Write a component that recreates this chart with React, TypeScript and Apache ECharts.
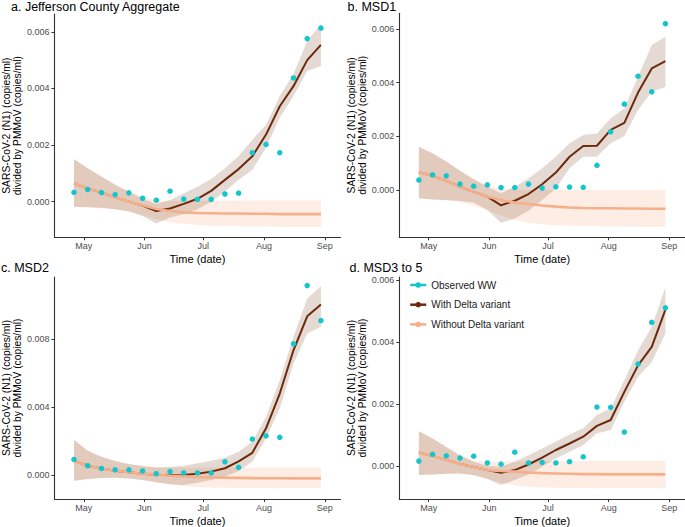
import React, { useEffect, useRef } from 'react';
import * as echarts from 'echarts';

// ---------- data ----------
const sampleDates = [
  '2021-04-26', '2021-05-03', '2021-05-10', '2021-05-17', '2021-05-24', '2021-05-31',
  '2021-06-07', '2021-06-14', '2021-06-21', '2021-06-28', '2021-07-05', '2021-07-12',
  '2021-07-19', '2021-07-26', '2021-08-02', '2021-08-09', '2021-08-16', '2021-08-23', '2021-08-30',
];
const monthTickDates = ['2021-05-01', '2021-06-01', '2021-07-01', '2021-08-01', '2021-09-01'];
const monthLabels = ['May', 'Jun', 'Jul', 'Aug', 'Sep'];

const panelTitles = ['a. Jefferson County Aggregate', 'b. MSD1', 'c. MSD2', 'd. MSD3 to 5'];
const yTicksA = [0, 0.002, 0.004, 0.006];
const yTicksB = [0, 0.002, 0.004, 0.006];
const yTicksC = [0, 0.004, 0.008];
const yTicksD = [0, 0.002, 0.004, 0.006];

// Panel a
const obsA = [0.00033, 0.00043, 0.00032, 0.00025, 0.00031, 0.00012, 0.00005, 0.00037, 0.00009, 0.00008, 0.00008, 0.00027, 0.00030, 0.00173, 0.00202, 0.00173, 0.00437, 0.00576, 0.00613];
const withA = [0.00064, 0.00047, 0.00032, 0.00015, 0.0, -0.00014, -0.00033, -0.00024, -0.00008, 0.0001, 0.00038, 0.00077, 0.00115, 0.0016, 0.00237, 0.00337, 0.00408, 0.005, 0.00554];
const withLoA = [-0.00018, -0.0002, -0.00022, -0.00027, -0.00034, -0.00051, -0.00077, -0.00056, -0.00044, -0.00027, 0.0, 0.00036, 0.00077, 0.00112, 0.0019, 0.00296, 0.00373, 0.00462, 0.00479];
const withHiA = [0.0015, 0.00118, 0.00089, 0.0006, 0.00036, 0.0001, -0.00008, 0.00006, 0.0003, 0.00053, 0.0008, 0.00118, 0.0016, 0.00219, 0.00272, 0.00373, 0.0045, 0.00568, 0.00627];
const withoutA = [0.00064, 0.00047, 0.00032, 0.00015, 0.0, -0.00013, -0.00026, -0.00033, -0.00038, -0.0004, -0.00041, -0.00042, -0.00042, -0.00043, -0.00043, -0.00044, -0.00044, -0.00044, -0.00044];
const withoutLoA = [-0.00018, -0.0002, -0.00023, -0.00028, -0.00036, -0.00048, -0.00062, -0.00072, -0.00078, -0.00082, -0.00085, -0.00086, -0.00087, -0.00088, -0.00088, -0.00089, -0.00089, -0.00089, -0.00089];
const withoutHiA = [0.0015, 0.00118, 0.00089, 0.0006, 0.00036, 0.00016, 0.00004, 0.00002, 0.00002, 0.00003, 0.00003, 0.00003, 0.00004, 0.00004, 0.00004, 0.00004, 0.00004, 0.00004, 0.00004];

// Panel b
const obsB = [0.00037, 0.00056, 0.00053, 0.00022, 0.00014, 0.00019, 0.00009, 0.00009, 0.00022, 0.00007, 0.00012, 0.00011, 0.0001, 0.00092, 0.00217, 0.0032, 0.00424, 0.00366, 0.0062];
const withB = [0.00066, 0.00053, 0.00034, 0.00012, -0.00007, -0.00025, -0.00057, -0.0004, -0.00015, 0.00021, 0.00065, 0.00124, 0.00164, 0.00165, 0.00224, 0.0025, 0.00363, 0.00453, 0.0048];
const withLoB = [-0.00031, -0.00035, -0.00037, -0.00041, -0.00047, -0.00075, -0.00122, -0.00106, -0.00077, -0.00037, 0.00006, 0.00081, 0.00124, 0.00124, 0.00174, 0.00201, 0.00298, 0.00366, 0.00385];
const withHiB = [0.00161, 0.00137, 0.00106, 0.00072, 0.0004, 0.00012, -0.00012, 0.00012, 0.00043, 0.00081, 0.00124, 0.00174, 0.00205, 0.00211, 0.00267, 0.00304, 0.00422, 0.0054, 0.00571];
const withoutB = [0.00066, 0.00053, 0.00034, 0.00012, -0.00007, -0.00025, -0.00037, -0.00047, -0.00052, -0.00058, -0.00062, -0.00065, -0.00067, -0.00068, -0.00068, -0.00069, -0.00069, -0.0007, -0.0007];
const withoutLoB = [-0.00031, -0.00035, -0.00038, -0.00045, -0.00058, -0.00075, -0.00095, -0.00112, -0.00122, -0.00128, -0.00131, -0.00133, -0.00134, -0.00135, -0.00136, -0.00136, -0.00137, -0.00137, -0.00137];
const withoutHiB = [0.00161, 0.00137, 0.00106, 0.00072, 0.0004, 0.00018, 0.00006, 0.00001, 0.0, 0.0, 0.0, 0.0, 0.0, 0.0, 0.0, 0.0, 0.0, 0.0, 0.0];

// Panel c
const obsC = [0.00092, 0.00055, 0.00039, 0.00031, 0.00031, 0.00024, 0.00008, 0.0002, 0.00012, 0.00012, 0.00012, 0.00078, 0.00045, 0.00212, 0.00231, 0.00222, 0.00773, 0.01116, 0.0091];
const withC = [0.00084, 0.00055, 0.00039, 0.00025, 0.00016, 0.00008, 0.00002, -0.00002, 0.0, 0.00008, 0.0002, 0.0004, 0.0008, 0.00131, 0.00275, 0.0048, 0.00735, 0.00935, 0.01004];
const withLoC = [-0.00033, -0.00024, -0.00018, -0.00016, -0.0002, -0.00029, -0.00043, -0.00055, -0.00059, -0.00045, -0.00029, -0.0001, 0.00024, 0.00078, 0.00216, 0.00392, 0.00657, 0.00833, 0.00873];
const withHiC = [0.00206, 0.00143, 0.00108, 0.00082, 0.00065, 0.00053, 0.00045, 0.00047, 0.00055, 0.00069, 0.00084, 0.00102, 0.00137, 0.00196, 0.00343, 0.00559, 0.00814, 0.01039, 0.01114];
const withoutC = [0.00084, 0.00055, 0.00039, 0.00025, 0.00016, 0.00008, 0.00002, -0.00004, -0.00008, -0.00012, -0.00014, -0.00016, -0.00017, -0.00018, -0.00019, -0.00019, -0.0002, -0.0002, -0.0002];
const withoutLoC = [-0.00033, -0.00024, -0.00018, -0.00016, -0.0002, -0.00029, -0.00043, -0.00056, -0.00065, -0.0007, -0.00073, -0.00075, -0.00076, -0.00077, -0.00077, -0.00078, -0.00078, -0.00078, -0.00078];
const withoutHiC = [0.00206, 0.00143, 0.00108, 0.00082, 0.00065, 0.00053, 0.00045, 0.00044, 0.00043, 0.00043, 0.00043, 0.00043, 0.00043, 0.00043, 0.00043, 0.00043, 0.00043, 0.00043, 0.00043];

// Panel d
const obsD = [0.00015, 0.00037, 0.00032, 0.00025, 0.00031, 0.00009, 0.00005, 0.00044, 0.00009, 0.00011, 0.00009, 0.00013, 0.00029, 0.0019, 0.00189, 0.00109, 0.00329, 0.00464, 0.00511];
const withD = [0.00043, 0.00032, 0.00019, 0.00006, -0.00004, -0.00014, -0.00023, -0.00014, 0.00004, 0.00026, 0.00051, 0.00072, 0.00094, 0.00129, 0.00148, 0.00239, 0.00325, 0.00385, 0.00505];
const withLoD = [-0.0003, -0.00028, -0.00026, -0.00025, -0.0003, -0.00043, -0.00062, -0.00046, -0.00028, -0.00003, 0.00024, 0.00045, 0.00067, 0.00105, 0.00115, 0.00207, 0.00288, 0.00336, 0.00428];
const withHiD = [0.00112, 0.00088, 0.00061, 0.00034, 0.00013, 0.0, -0.00003, 0.00013, 0.00034, 0.00056, 0.00078, 0.00101, 0.00121, 0.00164, 0.00185, 0.00277, 0.00374, 0.00449, 0.00578];
const withoutD = [0.00043, 0.00032, 0.00019, 0.00006, -0.00004, -0.00014, -0.00017, -0.00019, -0.00022, -0.00024, -0.00025, -0.00026, -0.00027, -0.00027, -0.00028, -0.00028, -0.00028, -0.00028, -0.00028];
const withoutLoD = [-0.0003, -0.00028, -0.00026, -0.00026, -0.00031, -0.00042, -0.00055, -0.00063, -0.00068, -0.0007, -0.00071, -0.00072, -0.00072, -0.00073, -0.00073, -0.00073, -0.00073, -0.00073, -0.00073];
const withoutHiD = [0.00112, 0.00088, 0.00061, 0.00034, 0.00016, 0.00013, 0.00013, 0.00014, 0.00015, 0.00015, 0.00015, 0.00015, 0.00015, 0.00015, 0.00015, 0.00015, 0.00015, 0.00015, 0.00015];

// ---------- styling / layout ----------
const FONT = '"Liberation Sans", Arial, Helvetica, sans-serif';
const CYAN = '#12C6CB';
const BROWN = '#6B2A0C';
const ORANGE = '#F5AF8A';
const BROWN_BAND = 'rgba(107,42,12,0.18)';
const ORANGE_BAND = 'rgba(245,173,134,0.22)';
const AXIS_COLOR = '#333333';
const LABEL_COLOR = '#4D4D4D';

const BASE = Date.UTC(2021, 3, 1);
const toDay = (s: string) => {
  const [y, m, d] = s.split('-').map(Number);
  return (Date.UTC(y, m - 1, d) - BASE) / 86400000;
};

export default function App() {
  const ref = useRef<HTMLDivElement>(null);

  useEffect(() => {
    if (!ref.current) return;
    const chart = echarts.init(ref.current, null, { renderer: 'svg' });

    const xs = sampleDates.map(toDay);
    const monthDays = monthTickDates.map(toDay);
    const pairs = (arr: number[]) => arr.map((v, i) => [xs[i], v]);

    const panels = [
      { obs: obsA, w: withA, wLo: withLoA, wHi: withHiA, wo: withoutA, woLo: withoutLoA, woHi: withoutHiA, ticks: yTicksA, ymin: -0.00126, ymax: 0.00663 },
      { obs: obsB, w: withB, wLo: withLoB, wHi: withHiB, wo: withoutB, woLo: withoutLoB, woHi: withoutHiB, ticks: yTicksB, ymin: -0.001763, ymax: 0.006586 },
      { obs: obsC, w: withC, wLo: withLoC, wHi: withHiC, wo: withoutC, woLo: withoutLoC, woHi: withoutHiC, ticks: yTicksC, ymin: -0.001412, ymax: 0.011665 },
      { obs: obsD, w: withD, wLo: withLoD, wHi: withHiD, wo: withoutD, woLo: withoutLoD, woHi: withoutHiD, ticks: yTicksD, ymin: -0.001076, ymax: 0.006109 },
    ];

    const grids = [
      { left: 51.7, top: 14, width: 288.8, height: 223.3 },
      { left: 399.3, top: 13.3, width: 290.8, height: 224 },
      { left: 51.7, top: 277, width: 288.8, height: 222.3 },
      { left: 399.3, top: 277, width: 290.8, height: 222.3 },
    ];
    const titlePos = [
      { left: 11, top: 0 },
      { left: 347.5, top: 0 },
      { left: 1, top: 261 },
      { left: 349.5, top: 261 },
    ];

    const xAxes = panels.map((_, i) => ({
      type: 'value',
      gridIndex: i,
      min: 15,
      max: 161,
      name: 'Time (date)',
      nameLocation: 'middle',
      nameGap: 16,
      nameTextStyle: { fontSize: 11, color: '#000', fontFamily: FONT },
      axisLine: { show: true, onZero: false, lineStyle: { color: AXIS_COLOR, width: 1.1 } },
      axisTick: { show: true, length: 3, customValues: monthDays, lineStyle: { color: AXIS_COLOR } },
      axisLabel: {
        customValues: monthDays,
        margin: 4,
        fontSize: 9,
        color: LABEL_COLOR,
        fontFamily: FONT,
        formatter: (v: number) => {
          const k = monthDays.indexOf(v);
          return k >= 0 ? monthLabels[k] : '';
        },
      },
      splitLine: { show: false },
    }));

    const yAxes = panels.map((p, i) => ({
      type: 'value',
      gridIndex: i,
      min: p.ymin,
      max: p.ymax,
      name: 'SARS-CoV-2 (N1) (copies/ml)\ndivided by PMMoV (copies/ml)',
      nameLocation: 'middle',
      nameRotate: 90,
      nameGap: 30,
      nameTextStyle: { fontSize: 10.3, lineHeight: 11, color: '#000', fontFamily: FONT },
      axisLine: { show: true, onZero: false, lineStyle: { color: AXIS_COLOR, width: 1.1 } },
      axisTick: { show: true, length: 3, customValues: p.ticks, lineStyle: { color: AXIS_COLOR } },
      axisLabel: {
        customValues: p.ticks,
        margin: 5,
        fontSize: 9,
        color: LABEL_COLOR,
        fontFamily: FONT,
        formatter: (v: number) => v.toFixed(3),
      },
      splitLine: { show: false },
    }));

    const series: any[] = [];
    panels.forEach((p, i) => {
      const band = (lo: number[], hi: number[], color: string) => {
        series.push({
          type: 'custom',
          xAxisIndex: i,
          yAxisIndex: i,
          silent: true,
          clip: true,
          data: xs.map((x, j) => [x, lo[j], hi[j]]),
          encode: { x: 0, y: [1, 2] },
          renderItem: (params: any, api: any) => {
            if (params.dataIndex !== 0) return null;
            const pts: number[][] = [];
            for (let j = 0; j < xs.length; j++) pts.push(api.coord([xs[j], hi[j]]));
            for (let j = xs.length - 1; j >= 0; j--) pts.push(api.coord([xs[j], lo[j]]));
            return { type: 'polygon', shape: { points: pts }, style: { fill: color, stroke: 'none' } };
          },
        });
      };
      band(p.woLo, p.woHi, ORANGE_BAND);
      band(p.wLo, p.wHi, BROWN_BAND);
      series.push({
        type: 'line', name: 'With Delta variant', xAxisIndex: i, yAxisIndex: i,
        data: pairs(p.w), symbol: 'circle', showSymbol: false,
        itemStyle: { color: BROWN }, lineStyle: { color: BROWN, width: 2 }, silent: true,
      });
      series.push({
        type: 'line', name: 'Without Delta variant', xAxisIndex: i, yAxisIndex: i,
        data: pairs(p.wo), symbol: 'circle', showSymbol: false,
        itemStyle: { color: ORANGE }, lineStyle: { color: ORANGE, width: 2.6 }, silent: true,
      });
      series.push({
        type: 'line', name: 'Observed WW', xAxisIndex: i, yAxisIndex: i,
        data: pairs(p.obs), symbol: 'circle', symbolSize: 5.5, showSymbol: true, showAllSymbol: true,
        itemStyle: { color: CYAN, opacity: 1 }, lineStyle: { opacity: 0, width: 0 }, silent: true,
      });
    });

    const option = {
      animation: false,
      backgroundColor: '#ffffff',
      textStyle: { fontFamily: FONT },
      title: panelTitles.map((t, i) => ({
        text: t,
        left: titlePos[i].left,
        top: titlePos[i].top,
        padding: 0,
        textStyle: { fontSize: 12.5, fontWeight: 'normal', color: '#000', fontFamily: FONT },
      })),
      legend: {
        orient: 'vertical',
        left: 409,
        top: 280,
        itemWidth: 16,
        itemHeight: 7,
        itemGap: 9.7,
        padding: 0,
        selectedMode: false,
        textStyle: { fontSize: 10, color: '#1a1a1a', fontFamily: FONT },
        data: [
          { name: 'Observed WW', itemStyle: { color: CYAN }, lineStyle: { color: CYAN, width: 2.5, opacity: 1 } },
          { name: 'With Delta variant', itemStyle: { color: BROWN }, lineStyle: { color: BROWN, width: 2.5, opacity: 1 } },
          { name: 'Without Delta variant', itemStyle: { color: ORANGE }, lineStyle: { color: ORANGE, width: 2.5, opacity: 1 } },
        ],
      },
      grid: grids.map((g) => ({ ...g, containLabel: false })),
      xAxis: xAxes,
      yAxis: yAxes,
      series,
    };

    chart.setOption(option as any);
    return () => chart.dispose();
  }, []);

  return (
    <div
      ref={ref}
      style={{ position: 'absolute', left: 0, top: 0, width: 685, height: 527, background: '#fff' }}
    />
  );
}
